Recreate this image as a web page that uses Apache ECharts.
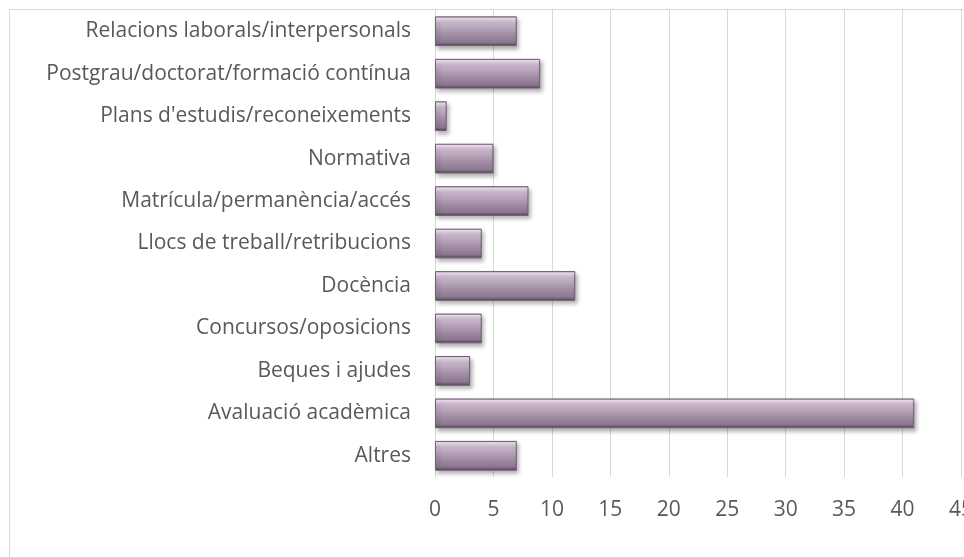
<!DOCTYPE html>
<html>
<head>
<meta charset="utf-8">
<script src="https://cdn.jsdelivr.net/npm/echarts@6/dist/echarts.min.js"></script>
<style>html,body{margin:0;padding:0;background:#fff}#c{width:964px;height:557px}</style>
</head>
<body>
<div id="c"></div>
<script>
const categories = ["Altres","Avaluació acadèmica","Beques i ajudes","Concursos/oposicions","Docència","Llocs de treball/retribucions","Matrícula/permanència/accés","Normativa","Plans d'estudis/reconeixements","Postgrau/doctorat/formació contínua","Relacions laborals/interpersonals"];
const values = [7,41,3,4,12,4,8,5,1,9,7];
const xMin = 0, xMax = 45, xStep = 5;

const chart = echarts.init(document.getElementById('c'), null, {renderer:'canvas'});
const font = '"Open Sans", sans-serif';
chart.setOption({
  animation:false,
  backgroundColor:'#fff',
  graphic:[{type:'rect',shape:{x:9.5,y:9.5,width:1000,height:700},style:{fill:'none',stroke:'#d9d9d9',lineWidth:1},silent:true,z:0}],
  grid:{left:435,right:3,top:10,bottom:80,containLabel:false,outerBoundsMode:'none'},
  xAxis:{type:'value',min:xMin,max:xMax,interval:xStep,
    axisLine:{show:false},axisTick:{show:false},
    axisLabel:{color:'#595959',fontSize:21,fontFamily:font,margin:23,hideOverlap:false,showMaxLabel:true},
    splitLine:{show:true,lineStyle:{color:'#d9d9d9',width:1}}},
  yAxis:{type:'category',data:categories,
    axisLine:{show:true,lineStyle:{color:'#d9d9d9',width:1}},axisTick:{show:false},
    axisLabel:{color:'#595959',fontSize:21,fontFamily:font,margin:24,interval:0}},
  series:[{type:'bar',data:values,barCategoryGap:'30%',
    itemStyle:{
      color:new echarts.graphic.LinearGradient(0,0,0,1,[
        {offset:0,color:'#8a788d'},
        {offset:0.06,color:'#f1e4f3'},
        {offset:0.22,color:'#c9b5cc'},
        {offset:0.6,color:'#a28ea5'},
        {offset:0.88,color:'#8a768e'},
        {offset:1,color:'#4f3f52'}]),
      borderColor:'#6f5f72',borderWidth:1,
      shadowColor:'rgba(0,0,0,0.3)',shadowBlur:4,shadowOffsetX:2,shadowOffsetY:3}
  }]
});
</script>
</body>
</html>
